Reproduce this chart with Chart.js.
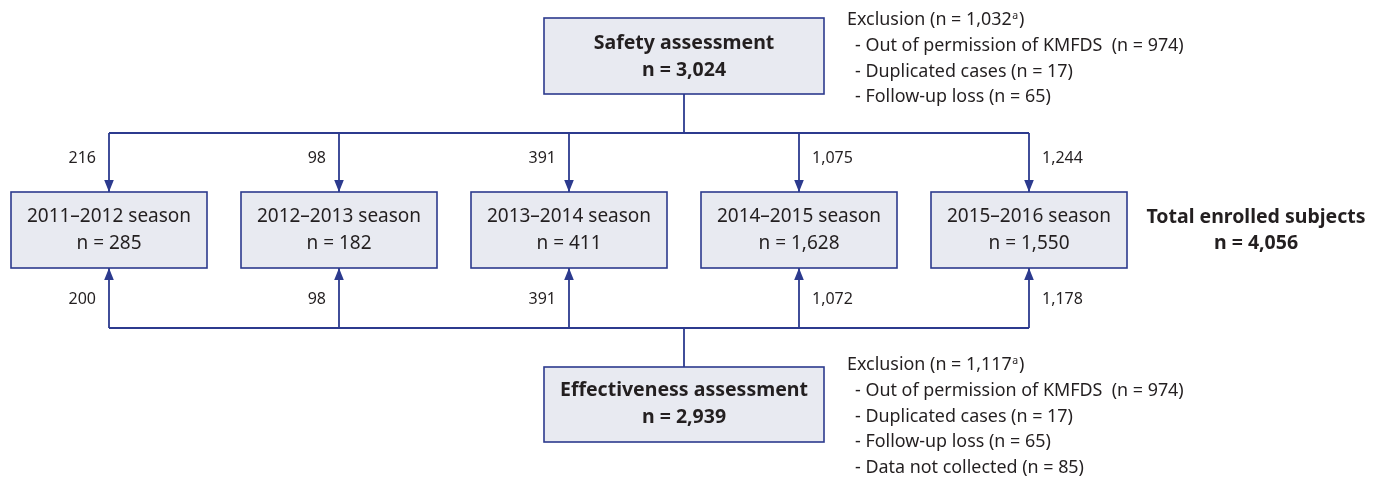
<!DOCTYPE html>
<html>
<head>
<meta charset="utf-8">
<script src="https://cdn.jsdelivr.net/npm/chart.js@4.4.1/dist/chart.umd.min.js"></script>
<style>
  html, body { margin: 0; padding: 0; background: #fff; }
  #wrap { width: 1383px; height: 478px; }
</style>
</head>
<body>
<div id="wrap"><canvas id="flow" width="1383" height="478"></canvas></div>
<script>
// ---- data ----
const seasons = ["2011\u20132012 season", "2012\u20132013 season", "2013\u20132014 season",
                 "2014\u20132015 season", "2015\u20132016 season"];
const seasonN = [285, 182, 411, 1628, 1550];
const safetyIn = [216, 98, 391, 1075, 1244];
const effectIn = [200, 98, 391, 1072, 1178];
const safetyTotal = 3024;
const effectTotal = 2939;
const enrolledTotal = 4056;
const safetyExcl = 1032;
const safetyExclItems = ["Out of permission of KMFDS  (n = 974)", "Duplicated cases (n = 17)",
                         "Follow-up loss (n = 65)"];
const effectExcl = 1117;
const effectExclItems = ["Out of permission of KMFDS  (n = 974)", "Duplicated cases (n = 17)",
                         "Follow-up loss (n = 65)", "Data not collected (n = 85)"];

// ---- layout (figure units = px of the reference) ----
const L = {
  col0: 109, colStep: 230, seasonW: 196, seasonTop: 192, seasonBot: 268,
  topBus: 133, botBus: 328, mainX: 684, mainW: 280,
  safetyTop: 18, safetyBot: 94, effTop: 367, effBot: 442,
  exclX: 847, exclSafetyY: 20, exclEffY: 365, exclStep: 25.8,
  totalX: 1256,
};
const NAVY = "#2c3a8e", FILL = "#e8eaf1", INK = "#231f20";
const FONT = "'Noto Sans', 'Open Sans', sans-serif";
const fmt = (n) => n.toLocaleString("en-US");

const flowPlugin = {
  id: "flow",
  afterDraw(chart) {
    const ctx = chart.ctx;
    const X = (v) => chart.scales.x.getPixelForValue(v);
    const Y = (v) => chart.scales.y.getPixelForValue(v);
    const cols = seasons.map((_, i) => L.col0 + i * L.colStep);

    function box(cx, w, top, bot) {
      ctx.fillStyle = FILL;
      ctx.strokeStyle = NAVY;
      ctx.lineWidth = 1.6;
      ctx.fillRect(X(cx - w / 2), Y(top), X(cx + w / 2) - X(cx - w / 2), Y(bot) - Y(top));
      ctx.strokeRect(X(cx - w / 2), Y(top), X(cx + w / 2) - X(cx - w / 2), Y(bot) - Y(top));
    }
    function text(t, x, y, font, align) {
      ctx.font = font;
      ctx.fillStyle = INK;
      ctx.textAlign = align || "center";
      ctx.textBaseline = "middle";
      ctx.fillText(t, X(x), Y(y));
    }
    function seg(x1, y1, x2, y2) {
      ctx.strokeStyle = NAVY;
      ctx.lineWidth = 1.8;
      ctx.beginPath();
      ctx.moveTo(X(x1), Y(y1));
      ctx.lineTo(X(x2), Y(y2));
      ctx.stroke();
    }
    function arrow(x, from, to) {
      seg(x, from, x, to);
      const dir = to > from ? 1 : -1;
      ctx.fillStyle = NAVY;
      ctx.beginPath();
      ctx.moveTo(X(x), Y(to));
      ctx.lineTo(X(x - 4.8), Y(to - dir * 12));
      ctx.lineTo(X(x + 4.8), Y(to - dir * 12));
      ctx.closePath();
      ctx.fill();
    }
    function exclusion(total, items, y0) {
      const f = "17.9px " + FONT;
      ctx.font = f;
      const head = "Exclusion (n = " + fmt(total);
      text(head, L.exclX, y0, f, "left");
      ctx.font = f;
      const w = ctx.measureText(head).width;
      text("a", L.exclX + w + 0.5, y0 - 4, "10.5px " + FONT, "left");
      ctx.font = "10.5px " + FONT;
      const wa = ctx.measureText("a").width;
      text(")", L.exclX + w + wa + 1.5, y0, f, "left");
      items.forEach((it, i) => text("- " + it, L.exclX + 8, y0 + (i + 1) * L.exclStep, f, "left"));
    }

    // connectors
    seg(L.mainX, L.safetyBot, L.mainX, L.topBus);
    seg(cols[0], L.topBus, cols[cols.length - 1], L.topBus);
    seg(L.mainX, L.effTop, L.mainX, L.botBus);
    seg(cols[0], L.botBus, cols[cols.length - 1], L.botBus);
    cols.forEach((cx, i) => {
      arrow(cx, L.topBus, L.seasonTop);
      arrow(cx, L.botBus, L.seasonBot);
      const left = i < 3;
      const lx = left ? cx - 13 : cx + 13;
      const al = left ? "right" : "left";
      text(fmt(safetyIn[i]), lx, 158, "16px " + FONT, al);
      text(fmt(effectIn[i]), lx, 299, "16px " + FONT, al);
    });

    // boxes
    const bold = "bold 19.5px " + FONT;
    box(L.mainX, L.mainW, L.safetyTop, L.safetyBot);
    text("Safety assessment", L.mainX, 43, bold);
    text("n = " + fmt(safetyTotal), L.mainX, 70, bold);
    box(L.mainX, L.mainW, L.effTop, L.effBot);
    text("Effectiveness assessment", L.mainX, 390, bold);
    text("n = " + fmt(effectTotal), L.mainX, 417, bold);
    cols.forEach((cx, i) => {
      box(cx, L.seasonW, L.seasonTop, L.seasonBot);
      text(seasons[i], cx, 217, "19px " + FONT);
      text("n = " + fmt(seasonN[i]), cx, 244, "19px " + FONT);
    });

    text("Total enrolled subjects", L.totalX, 217, bold);
    text("n = " + fmt(enrolledTotal), L.totalX, 243, bold);

    exclusion(safetyExcl, safetyExclItems, L.exclSafetyY);
    exclusion(effectExcl, effectExclItems, L.exclEffY);
  },
};

new Chart(document.getElementById("flow"), {
  type: "scatter",
  data: { datasets: [{ data: [], pointRadius: 0 }] },
  options: {
    responsive: false, animation: false,
    layout: { padding: 0 },
    plugins: { legend: { display: false }, tooltip: { enabled: false } },
    scales: {
      x: { type: "linear", min: 0, max: 1383, display: false },
      y: { type: "linear", min: 0, max: 478, reverse: true, display: false },
    },
  },
  plugins: [flowPlugin],
});
</script>
</body>
</html>
